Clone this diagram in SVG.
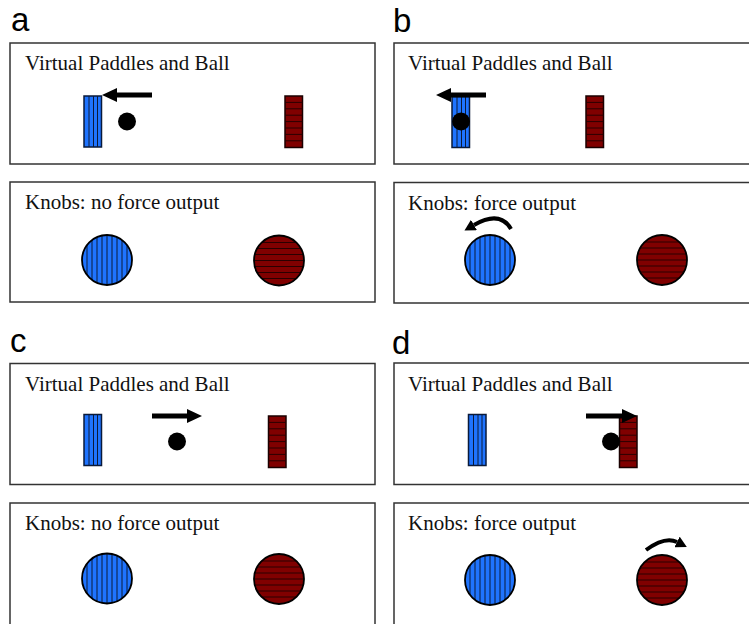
<svg xmlns="http://www.w3.org/2000/svg" xmlns:xlink="http://www.w3.org/1999/xlink" width="749" height="624" viewBox="0 0 749 624">
<style>
.box{fill:#fff;stroke:#333;stroke-width:1.5}
.lbl{font-family:"Liberation Sans",Arial,sans-serif;font-size:33px;fill:#000}
.t{font-family:"Liberation Serif","Times New Roman",serif;font-size:21px;fill:#111}
.arr{stroke:#000;stroke-width:5;fill:none}
.carr{stroke:#000;stroke-width:4;fill:none}
.ball{fill:#000}
</style>
<defs>
<marker id="head" markerUnits="userSpaceOnUse" markerWidth="16" markerHeight="16" refX="0" refY="7" orient="auto" viewBox="0 0 16 14">
<path d="M0,0 L15,7 L0,14 z" fill="#000"/>
</marker>
<marker id="chead" markerUnits="userSpaceOnUse" markerWidth="12" markerHeight="12" refX="0" refY="6" orient="auto" viewBox="0 0 12 12">
<path d="M0,0 L11,6 L0,12 z" fill="#000"/>
</marker>
<clipPath id="kc"><circle cx="0" cy="0" r="25"/></clipPath>
<g id="bluePaddle">
<rect x="0" y="0" width="17.5" height="51" fill="#1f74ff" stroke="#0a1a3a" stroke-width="1.5"/>
<path d="M5 0V51M9.5 0V51M13.5 0V51" stroke="#0a1a3a" stroke-width="1"/>
</g>
<g id="redPaddle">
<rect x="0" y="0" width="17.5" height="51.5" fill="#800000" stroke="#1a0000" stroke-width="1.5"/>
<path d="M0 6.4H17.5M0 12.8H17.5M0 19.2H17.5M0 25.6H17.5M0 32H17.5M0 38.4H17.5M0 44.8H17.5" stroke="#2a0000" stroke-width="1"/>
</g>
<g id="blueKnob">
<circle cx="0" cy="0" r="25" fill="#1f74ff"/>
<g clip-path="url(#kc)" stroke="#0a1a3a" stroke-width="1">
<path d="M-20 -25V25M-15 -25V25M-10 -25V25M-5 -25V25M0 -25V25M5 -25V25M10 -25V25M15 -25V25M20 -25V25"/>
</g>
<circle cx="0" cy="0" r="25" fill="none" stroke="#000" stroke-width="1.8"/>
</g>
<g id="redKnob">
<circle cx="0" cy="0" r="25" fill="#800000"/>
<g clip-path="url(#kc)" stroke="#2a0000" stroke-width="1.2">
<path d="M-25 -18H25M-25 -12H25M-25 -6H25M-25 0H25M-25 6H25M-25 12H25M-25 18H25"/>
</g>
<circle cx="0" cy="0" r="25" fill="none" stroke="#000" stroke-width="1.8"/>
</g>
</defs>
<rect width="749" height="624" fill="#fff"/>

<g id="panel-a">
<text class="lbl" x="11" y="31">a</text>
<g id="a-paddles">
<rect class="box" x="10" y="43" width="365" height="121"/>
<text class="t" x="25" y="70">Virtual Paddles and Ball</text>
<use xlink:href="#bluePaddle" x="84" y="96"/>
<use xlink:href="#redPaddle" x="285" y="96"/>
<circle class="ball" cx="127" cy="121.5" r="9"/>
</g>
<g id="a-knobs">
<rect class="box" x="10" y="182" width="365" height="120"/>
<text class="t" x="25" y="209">Knobs: no force output</text>
<use xlink:href="#blueKnob" x="107" y="260"/>
<use xlink:href="#redKnob" x="279" y="260.5"/>
</g>
</g>

<g id="panel-b">
<text class="lbl" x="393" y="32">b</text>
<g id="b-paddles">
<rect class="box" x="394" y="43" width="370" height="121"/>
<text class="t" x="408" y="70">Virtual Paddles and Ball</text>
<use xlink:href="#bluePaddle" x="452" y="96.5"/>
<use xlink:href="#redPaddle" x="586" y="96"/>
<circle class="ball" cx="461" cy="121.5" r="9"/>
</g>
<g id="b-knobs">
<rect class="box" x="394" y="182.5" width="370" height="120.5"/>
<text class="t" x="408" y="210">Knobs: force output</text>
<use xlink:href="#blueKnob" x="490" y="260"/>
<use xlink:href="#redKnob" x="662" y="260"/>
</g>
</g>

<g id="panel-c">
<text class="lbl" x="10" y="352">c</text>
<g id="c-paddles">
<rect class="box" x="10" y="363.5" width="365" height="121"/>
<text class="t" x="25" y="391">Virtual Paddles and Ball</text>
<use xlink:href="#bluePaddle" x="84" y="414.5"/>
<use xlink:href="#redPaddle" x="268.5" y="416"/>
<circle class="ball" cx="177" cy="441.5" r="9"/>
</g>
<g id="c-knobs">
<rect class="box" x="10" y="503" width="365" height="130"/>
<text class="t" x="25" y="530">Knobs: no force output</text>
<use xlink:href="#blueKnob" x="107" y="578.5"/>
<use xlink:href="#redKnob" x="279" y="579"/>
</g>
</g>

<g id="panel-d">
<text class="lbl" x="392" y="354">d</text>
<g id="d-paddles">
<rect class="box" x="394" y="363" width="370" height="121.5"/>
<text class="t" x="408" y="391">Virtual Paddles and Ball</text>
<use xlink:href="#bluePaddle" x="468.5" y="414.5"/>
<use xlink:href="#redPaddle" x="619.5" y="416"/>
<circle class="ball" cx="611" cy="441.5" r="9"/>
</g>
<g id="d-knobs">
<rect class="box" x="394" y="503" width="370" height="130"/>
<text class="t" x="408" y="530">Knobs: force output</text>
<use xlink:href="#blueKnob" x="490" y="580"/>
<use xlink:href="#redKnob" x="662" y="580"/>
</g>
</g>

<g id="connectors">
<line class="arr" x1="152" y1="95" x2="117" y2="95" marker-end="url(#head)"/>
<line class="arr" x1="486" y1="95" x2="451" y2="95" marker-end="url(#head)"/>
<line class="arr" x1="152" y1="416" x2="187" y2="416" marker-end="url(#head)"/>
<line class="arr" x1="586" y1="416" x2="622" y2="416" marker-end="url(#head)"/>
<path class="carr" d="M511 229 Q500 210 474 225" marker-end="url(#chead)"/>
<path class="carr" d="M646 550 Q665 536 677 542" marker-end="url(#chead)"/>
</g>
</svg>
